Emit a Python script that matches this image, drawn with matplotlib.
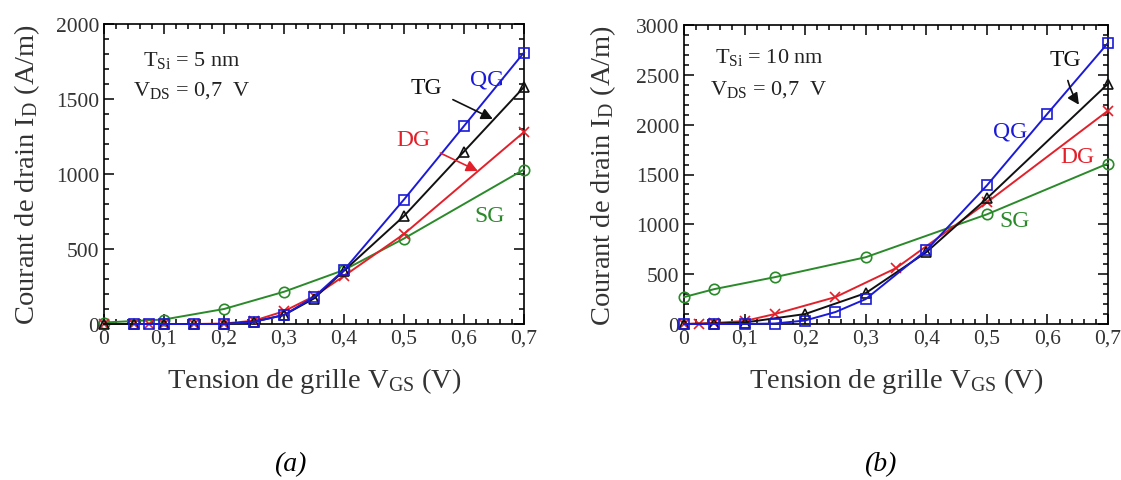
import matplotlib
matplotlib.use("Agg")
import matplotlib.pyplot as plt
from matplotlib.ticker import MultipleLocator, FuncFormatter

plt.rcParams['font.family'] = ['Liberation Serif', 'DejaVu Serif']
plt.rcParams['mathtext.fontset'] = 'custom'
plt.rcParams['mathtext.rm'] = 'Liberation Serif'
plt.rcParams['mathtext.it'] = 'Liberation Serif:italic'

# (a) T_Si = 5 nm
a_sg_x = [0, 0.1, 0.2, 0.3, 0.4, 0.5, 0.7]
a_sg_y = [10, 30, 100, 215, 360, 570, 1030]
a_dg_x = [0, 0.05, 0.075, 0.1, 0.15, 0.2, 0.25, 0.3, 0.35, 0.4, 0.5, 0.7]
a_dg_y = [0, 0, 0, 0, 0, 3, 22, 85, 185, 320, 600, 1280]
a_tg_x = [0, 0.05, 0.1, 0.15, 0.2, 0.25, 0.3, 0.35, 0.4, 0.5, 0.6, 0.7]
a_tg_y = [0, 0, 0, 0, 0, 15, 60, 170, 355, 720, 1150, 1580]
a_qg_x = [0.05, 0.075, 0.1, 0.15, 0.2, 0.25, 0.3, 0.35, 0.4, 0.5, 0.6, 0.7]
a_qg_y = [0, 0, 0, 0, 0, 15, 60, 180, 360, 830, 1320, 1810]

# (b) T_Si = 10 nm
b_sg_x = [0, 0.05, 0.15, 0.3, 0.5, 0.7]
b_sg_y = [270, 350, 470, 670, 1100, 1610]
b_dg_x = [0, 0.025, 0.05, 0.1, 0.15, 0.25, 0.35, 0.5, 0.7]
b_dg_y = [0, 5, 10, 30, 100, 270, 560, 1220, 2140]
b_tg_x = [0, 0.05, 0.1, 0.2, 0.3, 0.4, 0.5, 0.7]
b_tg_y = [0, 5, 15, 100, 310, 720, 1260, 2410]
b_qg_x = [0, 0.05, 0.1, 0.15, 0.2, 0.25, 0.3, 0.4, 0.5, 0.6, 0.7]
b_qg_y = [0, 0, 0, 5, 35, 120, 250, 740, 1390, 2110, 2820]

BLUE = '#1a1ad8'
RED = '#e3202a'
GREEN = '#2a8a2a'
BLACK = '#111111'


def comma(v, pos):
    if abs(v) < 1e-9:
        return '0'
    return ('%.1f' % v).replace('.', ',')


def draw(ax, data, ymax, ylab_off):
    for x, y, c, m in data:
        ax.plot(x, y, color=c, lw=1.4, marker=m, ms=7.5, mfc='none', mec=c,
                mew=1.2, clip_on=False, zorder=3)
    ax.set_xlim(0, 0.7)
    ax.set_ylim(0, ymax)
    ax.xaxis.set_major_locator(MultipleLocator(0.1))
    ax.xaxis.set_minor_locator(MultipleLocator(0.02))
    ax.yaxis.set_major_locator(MultipleLocator(500))
    ax.yaxis.set_minor_locator(MultipleLocator(100))
    ax.xaxis.set_major_formatter(FuncFormatter(comma))
    ax.tick_params(which='both', direction='in', top=True, right=True,
                   labelsize=15.5, labelcolor='#333333', width=1.1)
    ax.tick_params(which='major', length=7)
    ax.tick_params(which='minor', length=3.5)
    for s in ax.spines.values():
        s.set_linewidth(1.2)
    ax.set_xlabel(r'Tension de grille V$_{\rm GS}$ (V)', fontsize=20.5,
                  color='#333333')
    ax.set_ylabel(r'Courant de drain I$_{\rm D}$ (A/m)', fontsize=20.5,
                  color='#333333')
    w = ax.get_position().width * 1121
    ax.yaxis.set_label_coords(-ylab_off / w, 0.5)
    ax.xaxis.set_label_coords(0.5, -41 / 300)


fig = plt.figure(figsize=(11.21, 4.81), dpi=100)
ax1 = fig.add_axes([104 / 1121, 156 / 481, 420 / 1121, 300 / 481])
ax2 = fig.add_axes([684 / 1121, 156 / 481, 424 / 1121, 299 / 481])

draw(ax1, [(a_sg_x, a_sg_y, GREEN, 'o'), (a_dg_x, a_dg_y, RED, 'x'),
           (a_tg_x, a_tg_y, BLACK, '^'), (a_qg_x, a_qg_y, BLUE, 's')], 2000, 62)
draw(ax2, [(b_sg_x, b_sg_y, GREEN, 'o'), (b_dg_x, b_dg_y, RED, 'x'),
           (b_tg_x, b_tg_y, BLACK, '^'), (b_qg_x, b_qg_y, BLUE, 's')], 3000, 66)

# annotations panel (a)
ax1.text(0.093, 0.883, r'T$_{\rm Si}$ = 5 nm', transform=ax1.transAxes,
         fontsize=16, color='#222222', va='center')
ax1.text(0.069, 0.78, r'V$_{\rm DS}$ = 0,7  V', transform=ax1.transAxes,
         fontsize=16, color='#222222', va='center')
ax1.text(0.638, 1633, 'QG', color=BLUE, fontsize=17, ha='center', va='center')
ax1.text(0.643, 720, 'SG', color=GREEN, fontsize=17, ha='center', va='center')
ax1.annotate('TG', xy=(0.648, 1367), xytext=(0.538, 1580), color=BLACK,
             fontsize=17, ha='center', va='center',
             arrowprops=dict(arrowstyle='-|>', color=BLACK, lw=1.2,
                             shrinkA=6, shrinkB=0))
ax1.annotate('DG', xy=(0.623, 1020), xytext=(0.515, 1227), color=RED,
             fontsize=17, ha='center', va='center',
             arrowprops=dict(arrowstyle='-|>', color=RED, lw=1.2,
                             shrinkA=6, shrinkB=0))

# annotations panel (b)
ax2.text(0.073, 0.896, r'T$_{\rm Si}$ = 10 nm', transform=ax2.transAxes,
         fontsize=16, color='#222222', va='center')
ax2.text(0.061, 0.786, r'V$_{\rm DS}$ = 0,7  V', transform=ax2.transAxes,
         fontsize=16, color='#222222', va='center')
ax2.text(0.538, 1936, 'QG', color=BLUE, fontsize=17, ha='center', va='center')
ax2.text(0.649, 1685, 'DG', color=RED, fontsize=17, ha='center', va='center')
ax2.text(0.546, 1043, 'SG', color=GREEN, fontsize=17, ha='center', va='center')
ax2.annotate('TG', xy=(0.652, 2200), xytext=(0.629, 2658), color=BLACK,
             fontsize=17, ha='center', va='center',
             arrowprops=dict(arrowstyle='-|>', color=BLACK, lw=1.2,
                             shrinkA=6, shrinkB=0,
                             connectionstyle='arc3,rad=0.15'))

fig.text(290 / 1121, 1 - 465 / 481, '(a)', fontsize=20, style='italic',
         ha='center', va='center')
fig.text(880 / 1121, 1 - 465 / 481, '(b)', fontsize=20, style='italic',
         ha='center', va='center')

fig.savefig('out.png', dpi=100)
